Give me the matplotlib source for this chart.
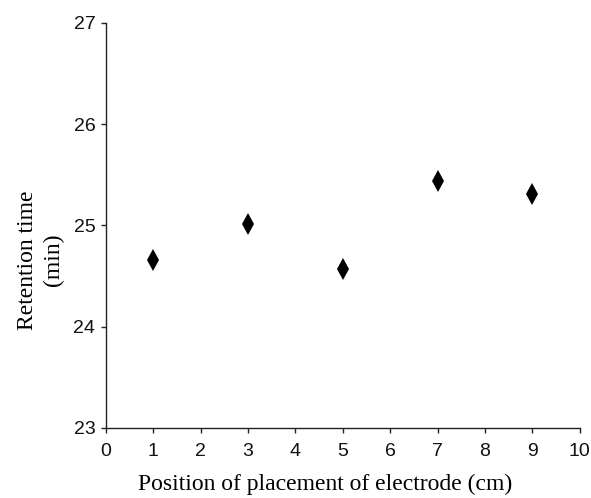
import matplotlib.pyplot as plt

positions = [1, 3, 5, 7, 9]
retention = [24.66, 25.01, 24.57, 25.44, 25.31]
x_ticks = list(range(0, 11))
y_ticks = [23, 24, 25, 26, 27]

fig = plt.figure(figsize=(5.91, 4.98), dpi=100)
ax = fig.add_axes([0.179, 0.1406, 0.802, 0.8134])

ax.plot(positions, retention, ls="none", marker="d", color="black",
        markersize=11, markeredgewidth=0)

ax.set_xlim(0, 10)
ax.set_ylim(23, 27)
ax.set_xticks(x_ticks)
ax.set_yticks(y_ticks)

for side in ["top", "right"]:
    ax.spines[side].set_visible(False)
for side in ["left", "bottom"]:
    ax.spines[side].set_color("#222222")
    ax.spines[side].set_linewidth(1.0)

ax.tick_params(direction="out", length=3.5, width=1, color="#222222",
               labelsize=14, labelcolor="#111111")
ax.tick_params(axis="x", pad=7)
ax.tick_params(axis="y", pad=4)
for lab in ax.get_xticklabels() + ax.get_yticklabels():
    lab.set_fontfamily("Liberation Sans")

ax.set_xlabel("Position of placement of electrode (cm)",
              fontfamily="Liberation Serif", fontsize=17, labelpad=10)
ax.set_ylabel("Retention time\n(min)",
              fontfamily="Liberation Serif", fontsize=17, labelpad=7,
              linespacing=1.3)
ax.xaxis.set_label_coords(0.462, -0.112)
ax.yaxis.label.set_y(0.415)

plt.savefig("out.png", dpi=100)
